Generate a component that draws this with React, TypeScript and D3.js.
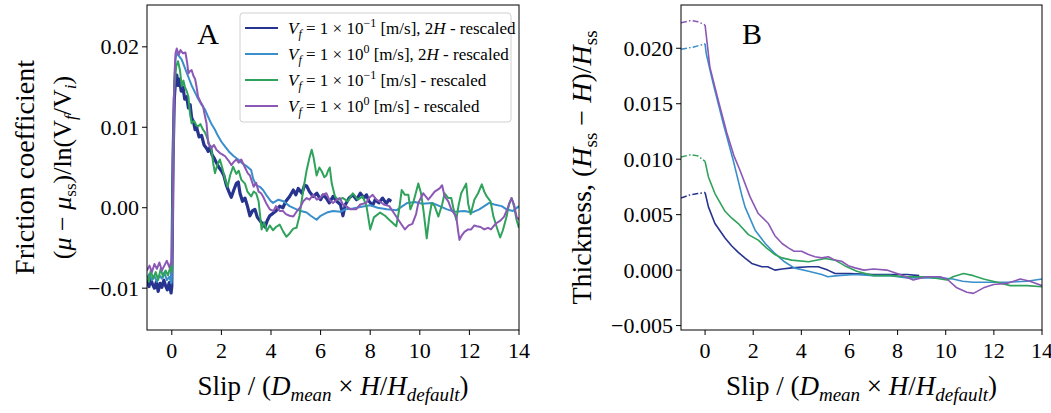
import React from "react";
import * as d3 from "d3";

type P = [number, number];

// ---------- Panel A data (x = slip, y = friction coefficient) ----------
const a_dark2H: P[] = [[-1.0,-0.0090],[-0.92,-0.0098],[-0.85,-0.0088],[-0.78,-0.0095],[-0.7,-0.0100],[-0.62,-0.0092],[-0.55,-0.0104],[-0.47,-0.0094],[-0.4,-0.0099],[-0.32,-0.0090],[-0.25,-0.0097],[-0.18,-0.0102],[-0.1,-0.0093],[-0.03,-0.0106],[0.0,-0.0098],[0.05,0.006],[0.1,0.0135],[0.15,0.0158],[0.2,0.0165],[0.25,0.0152],[0.3,0.0160],[0.38,0.0145],[0.45,0.0150],[0.52,0.0135],[0.6,0.0138],[0.67,0.0124],[0.74,0.0128],[0.8,0.0112],[0.88,0.0106],[0.94,0.0097],[1.0,0.0100],[1.1,0.0088],[1.2,0.0090],[1.3,0.0078],[1.4,0.0074],[1.47,0.0070],[1.55,0.0076],[1.62,0.0066],[1.7,0.0062],[1.8,0.0056],[1.9,0.0050],[2.0,0.0046],[2.1,0.0040],[2.2,0.0028],[2.3,0.0020],[2.4,0.0013],[2.5,0.0022],[2.6,0.0030],[2.68,0.0032],[2.75,0.0018],[2.85,0.0008],[2.95,0.0012],[3.05,0.0002],[3.15,-0.0010],[3.25,-0.0004],[3.35,-0.0002],[3.45,-0.0012],[3.55,-0.0016],[3.65,-0.0020],[3.76,-0.0024],[3.85,-0.0016],[3.95,-0.0010],[4.08,-0.0007],[4.2,-0.0004],[4.35,0.0002],[4.48,0.0000],[4.6,0.0008],[4.75,0.0014],[4.9,0.0022],[5.0,0.0016],[5.1,0.0024],[5.25,0.0018],[5.35,0.0028],[5.44,0.0027],[5.55,0.0020],[5.7,0.0014],[5.85,0.0018],[6.0,0.0010],[6.1,0.0016],[6.23,0.0012],[6.35,0.0006],[6.5,0.0014],[6.65,0.0008],[6.8,0.0004],[6.9,-0.0010],[7.0,0.0004],[7.15,0.0012],[7.3,0.0016],[7.45,0.0010],[7.6,0.0018],[7.75,0.0012],[7.85,0.0016],[7.95,0.0008],[8.1,0.0003],[8.2,0.0010],[8.35,0.0006],[8.5,0.0012],[8.65,0.0005],[8.75,0.0010],[8.85,0.0008]];

const a_light2H: P[] = [[-1,-0.0088],[-0.9,-0.0082],[-0.8,-0.0090],[-0.7,-0.0085],[-0.6,-0.0092],[-0.5,-0.0084],[-0.4,-0.0088],[-0.3,-0.0080],[-0.2,-0.0090],[-0.1,-0.0086],[-0.02,-0.0094],[0.0,-0.0090],[0.05,0.004],[0.1,0.0150],[0.15,0.0185],[0.2,0.0192],[0.3,0.0188],[0.4,0.0184],[0.5,0.0176],[0.6,0.0168],[0.7,0.0160],[0.8,0.0152],[0.94,0.0143],[1.05,0.0136],[1.2,0.0128],[1.34,0.0122],[1.45,0.0114],[1.6,0.0104],[1.74,0.0097],[1.85,0.0090],[2.0,0.0082],[2.15,0.0076],[2.3,0.0070],[2.5,0.0064],[2.68,0.0060],[2.85,0.0055],[3.0,0.0052],[3.2,0.0047],[3.28,0.0036],[3.4,0.0028],[3.55,0.0026],[3.68,0.0022],[3.85,0.0014],[4.0,0.0008],[4.08,0.0006],[4.3,0.0010],[4.5,0.0008],[4.75,0.0002],[5.03,-0.0002],[5.2,-0.0004],[5.44,-0.0006],[5.6,-0.0010],[5.84,-0.0015],[6.0,-0.0010],[6.25,-0.0006],[6.5,-0.0004],[6.8,-0.0005],[7.0,-0.0002],[7.3,-0.0001],[7.6,0.0001],[8.0,0.0003],[8.3,0.0000],[8.67,-0.0002],[9.07,-0.0003],[9.3,0.0002],[9.5,0.0006],[9.8,0.0007],[10.1,0.0005],[10.5,0.0006],[10.8,0.0002],[11.1,-0.0002],[11.4,-0.0005],[11.8,-0.0004],[12.1,-0.0006],[12.4,-0.0002],[12.8,0.0006],[13.0,0.0004],[13.3,0.0002],[13.5,-0.0002],[13.75,-0.0004],[14.0,0.0002]];

const a_green1H: P[] = [[-1,-0.0085],[-0.92,-0.0092],[-0.85,-0.0078],[-0.75,-0.0088],[-0.65,-0.0080],[-0.55,-0.0090],[-0.45,-0.0076],[-0.35,-0.0086],[-0.25,-0.0078],[-0.15,-0.0084],[-0.05,-0.0072],[0.0,-0.0080],[0.05,0.006],[0.1,0.0150],[0.18,0.0176],[0.25,0.0182],[0.33,0.0171],[0.4,0.0151],[0.47,0.0158],[0.53,0.0150],[0.6,0.0145],[0.67,0.0138],[0.73,0.0118],[0.8,0.0105],[0.9,0.0108],[1.0,0.0102],[1.06,0.0101],[1.15,0.0104],[1.26,0.0097],[1.33,0.0094],[1.4,0.0089],[1.5,0.0080],[1.6,0.0072],[1.67,0.0055],[1.74,0.0043],[1.82,0.0052],[1.94,0.0060],[2.05,0.0048],[2.15,0.0035],[2.25,0.0026],[2.35,0.0040],[2.47,0.0051],[2.6,0.0042],[2.7,0.0046],[2.8,0.0035],[2.95,0.0030],[3.05,0.0020],[3.2,0.0014],[3.3,0.0020],[3.4,0.0018],[3.5,0.0008],[3.62,-0.0027],[3.72,-0.0018],[3.83,-0.0029],[3.95,-0.0022],[4.08,-0.0028],[4.2,-0.0024],[4.35,-0.0021],[4.5,-0.0030],[4.62,-0.0036],[4.75,-0.0032],[4.9,-0.0026],[5.03,-0.0025],[5.15,-0.0010],[5.3,0.0022],[5.44,0.0047],[5.55,0.0062],[5.64,0.0072],[5.72,0.0062],[5.84,0.0040],[5.95,0.0050],[6.05,0.0045],[6.15,0.0038],[6.23,0.0040],[6.3,0.0046],[6.37,0.0050],[6.45,0.0030],[6.58,0.0014],[6.7,0.0010],[6.9,0.0012],[7.1,0.0008],[7.3,0.0018],[7.5,0.0010],[7.7,0.0014],[7.85,0.0002],[8.0,-0.0027],[8.15,-0.0012],[8.4,-0.0006],[8.6,-0.0010],[8.8,-0.0016],[9.05,-0.0023],[9.15,-0.0006],[9.27,0.0022],[9.4,0.0016],[9.54,0.0016],[9.62,-0.0002],[9.75,0.0008],[9.94,0.0030],[10.05,0.0018],[10.15,-0.0004],[10.28,-0.0038],[10.38,-0.0012],[10.48,0.0006],[10.6,0.0002],[10.75,-0.0011],[10.9,0.0004],[11.0,0.0018],[11.15,0.0012],[11.27,0.0012],[11.35,0.0],[11.47,-0.0015],[11.57,0.0004],[11.67,0.0018],[11.87,0.0030],[11.95,0.0005],[12.05,-0.0008],[12.2,0.0010],[12.35,0.0018],[12.5,0.0029],[12.6,0.0020],[12.7,0.0014],[12.85,0.0008],[12.97,-0.0011],[13.1,-0.0024],[13.24,-0.0037],[13.35,-0.0028],[13.5,-0.0011],[13.6,0.0005],[13.7,0.0012],[13.8,0.0002],[13.9,-0.0015],[14.0,-0.0025]];

const a_purple1H: P[] = [[-1,-0.0078],[-0.9,-0.0072],[-0.8,-0.0080],[-0.7,-0.0070],[-0.6,-0.0076],[-0.5,-0.0068],[-0.4,-0.0078],[-0.3,-0.0072],[-0.2,-0.0066],[-0.1,-0.0074],[-0.03,-0.0068],[0.0,-0.0070],[0.05,0.002],[0.1,0.0160],[0.15,0.0192],[0.2,0.0198],[0.28,0.0190],[0.35,0.0196],[0.45,0.0192],[0.55,0.0193],[0.62,0.0180],[0.67,0.0167],[0.74,0.0170],[0.8,0.0171],[0.87,0.0164],[0.94,0.0160],[1.0,0.0150],[1.06,0.0138],[1.15,0.0132],[1.26,0.0126],[1.33,0.0115],[1.4,0.0105],[1.47,0.0080],[1.55,0.0076],[1.6,0.0074],[1.7,0.0078],[1.8,0.0072],[1.94,0.0068],[2.05,0.0066],[2.15,0.0064],[2.3,0.0058],[2.4,0.0053],[2.5,0.0057],[2.6,0.0060],[2.7,0.0056],[2.8,0.0060],[2.95,0.0050],[3.06,0.0043],[3.15,0.0040],[3.3,0.0026],[3.4,0.0031],[3.5,0.0020],[3.6,0.0018],[3.68,0.0014],[3.8,0.0006],[3.95,-0.0002],[4.1,-0.0004],[4.2,0.0002],[4.35,-0.0004],[4.48,-0.0004],[4.6,-0.0008],[4.75,-0.0010],[4.9,-0.0011],[5.05,-0.0004],[5.17,0.0000],[5.3,0.0008],[5.44,0.0012],[5.55,0.0010],[5.7,0.0016],[5.85,0.0010],[5.97,0.0012],[6.1,0.0016],[6.23,0.0018],[6.35,0.0010],[6.5,0.0006],[6.65,0.0010],[6.77,0.0012],[6.9,0.0004],[7.03,0.0002],[7.2,-0.0002],[7.43,-0.0002],[7.6,0.0004],[7.84,0.0006],[7.95,0.0012],[8.1,0.0016],[8.25,0.0010],[8.37,0.0008],[8.55,0.0004],[8.77,0.0002],[8.9,-0.0004],[9.05,-0.0011],[9.2,-0.0018],[9.4,-0.0027],[9.55,-0.0022],[9.7,-0.0020],[9.85,-0.0008],[9.94,0.0006],[10.14,0.0018],[10.34,0.0010],[10.45,0.0014],[10.6,0.0020],[10.8,0.0024],[10.9,0.0028],[11.0,0.0014],[11.15,0.0008],[11.27,-0.0002],[11.47,-0.0011],[11.55,-0.0030],[11.6,-0.0040],[11.7,-0.0034],[11.8,-0.0030],[11.95,-0.0027],[12.07,-0.0027],[12.2,-0.0022],[12.3,-0.0023],[12.45,-0.0024],[12.6,-0.0027],[12.75,-0.0025],[12.87,-0.0027],[13.0,-0.0022],[13.1,-0.0019],[13.25,-0.0016],[13.4,-0.0011],[13.55,0.0000],[13.7,0.0012],[13.8,0.0004],[13.9,-0.0011],[14.0,-0.0015]];

// ---------- Panel B data (thickness) : dash-dot part before 0, solid after ----------
const b_dark2H_pre: P[] = [[-1,0.0065],[-0.6,0.0068],[-0.3,0.0069],[0,0.0070]];
const b_light2H_pre: P[] = [[-1,0.0199],[-0.5,0.0201],[0,0.0204]];
const b_green1H_pre: P[] = [[-1,0.0102],[-0.6,0.0104],[-0.3,0.0103],[0,0.0098]];
const b_purple1H_pre: P[] = [[-1,0.0223],[-0.6,0.0225],[-0.3,0.0224],[0,0.0221]];

const b_dark2H: P[] = [[0,0.0070],[0.14,0.0057],[0.41,0.0042],[0.83,0.0029],[1.1,0.0022],[1.38,0.0016],[1.65,0.0011],[1.94,0.0006],[2.36,0.0003],[2.6,0.0003],[2.9,0.0000],[3.2,0.0001],[3.6,0.0002],[4.3,0.0003],[4.7,0.0003],[5.1,0.0000],[5.4,-0.0003],[6.0,-0.0003],[7.0,-0.0004],[8.0,-0.0004],[8.4,-0.0004],[8.9,-0.0005]];
const b_light2H: P[] = [[0,0.0204],[0.05,0.0195],[0.34,0.0168],[0.76,0.0132],[1.17,0.0099],[1.52,0.0068],[1.66,0.0057],[2.08,0.0036],[2.5,0.0024],[2.9,0.0015],[3.3,0.00075],[3.7,0.0002],[4.3,-0.0001],[4.85,-0.0004],[5.1,-0.0006],[5.5,-0.0005],[6.23,-0.0004],[7.0,-0.0005],[7.7,-0.0005],[8.4,-0.0007],[9.1,-0.0007],[9.77,-0.0007],[10.3,-0.0008],[10.7,-0.0010],[11.15,-0.0011],[11.8,-0.0011],[12.54,-0.0011],[13.38,-0.0010],[14.0,-0.0008]];
const b_green1H: P[] = [[0,0.0098],[0.14,0.0084],[0.41,0.0069],[0.83,0.0053],[1.1,0.0047],[1.38,0.0042],[1.8,0.0032],[2.21,0.0027],[2.55,0.0020],[2.9,0.0014],[3.2,0.0011],[3.6,0.0009],[4.3,0.00075],[4.99,0.00105],[5.4,0.0009],[5.8,0.0004],[6.3,-0.0001],[7.0,-0.0005],[7.7,-0.0005],[8.4,-0.0006],[9.2,-0.0006],[10.05,-0.0009],[10.3,-0.0006],[10.74,-0.0003],[11.15,-0.0005],[11.57,-0.0008],[12.13,-0.0011],[12.68,-0.0014],[13.38,-0.0014],[14.0,-0.0015]];
const b_purple1H: P[] = [[0,0.0221],[0.2,0.0183],[0.55,0.0153],[0.9,0.0124],[1.2,0.0103],[1.45,0.0090],[1.87,0.0066],[2.21,0.0051],[2.63,0.0042],[2.9,0.0031],[3.2,0.0024],[3.46,0.0020],[3.7,0.0017],[4.01,0.0017],[4.3,0.0014],[4.57,0.0012],[4.85,0.0011],[5.12,0.0012],[5.4,0.0009],[5.67,0.0008],[5.95,0.0004],[6.23,0.0002],[6.6,0.0000],[7.0,0.0001],[7.55,0.0000],[8.1,-0.0004],[8.65,-0.0009],[9.2,-0.0006],[9.77,-0.0006],[10.05,-0.0008],[10.46,-0.0016],[10.88,-0.0020],[11.15,-0.0021],[11.57,-0.0016],[11.99,-0.0013],[12.54,-0.0012],[13.1,-0.0008],[13.5,-0.0010],[14.0,-0.0014]];

// ---------- ticks / labels ----------
const xTicks = [0, 2, 4, 6, 8, 10, 12, 14];
const aYTicks = [-0.01, 0.0, 0.01, 0.02];
const bYTicks = [-0.005, 0.0, 0.005, 0.01, 0.015, 0.02];
const legendExps = ["\u22121", "0", "\u22121", "0"];
const legendSuffix = [", 2", ", 2", "", ""];

const COLORS = ["#27348f", "#3a8fcb", "#2fa25b", "#8b58b5"];
const FONT = "'Liberation Serif', 'DejaVu Serif', serif";
const TICK_FS = 22;

const fmtA = (v: number) => (v < 0 ? "\u2212" : "") + Math.abs(v).toFixed(2);
const fmtB = (v: number) => (v < 0 ? "\u2212" : "") + Math.abs(v).toFixed(3);

function Axes({ left, right, top, bottom, xDomain, yDomain, yTicks, fmt }: any) {
  const x = d3.scaleLinear().domain(xDomain).range([left, right]);
  const y = d3.scaleLinear().domain(yDomain).range([bottom, top]);
  return (
    <g>
      <rect x={left} y={top} width={right - left} height={bottom - top} fill="none" stroke="#000" strokeWidth={1} />
      {xTicks.map((t) => (
        <g key={"x" + t}>
          <line x1={x(t)} x2={x(t)} y1={bottom} y2={bottom + 5} stroke="#000" />
          <text x={x(t)} y={bottom + 28} textAnchor="middle" fontSize={TICK_FS} fontFamily={FONT}>{t}</text>
        </g>
      ))}
      {yTicks.map((t: number) => (
        <g key={"y" + t}>
          <line x1={left - 5} x2={left} y1={y(t)} y2={y(t)} stroke="#000" />
          <text x={left - 8} y={y(t) + 7.5} textAnchor="end" fontSize={TICK_FS} fontFamily={FONT}>{fmt(t)}</text>
        </g>
      ))}
    </g>
  );
}

function XLabel({ cx, y }: { cx: number; y: number }) {
  return (
    <text x={cx} y={y} textAnchor="middle" fontSize={27} fontFamily={FONT}>
      Slip / (<tspan fontStyle="italic">D</tspan>
      <tspan fontStyle="italic" fontSize={19} dy={6}>mean</tspan>
      <tspan dy={-6}> × </tspan>
      <tspan fontStyle="italic">H</tspan>/<tspan fontStyle="italic">H</tspan>
      <tspan fontStyle="italic" fontSize={19} dy={6}>default</tspan>
      <tspan dy={-6}>)</tspan>
    </text>
  );
}

export default function App() {
  const W = 1051, H = 413;
  const A = { left: 147, right: 519, top: 5, bottom: 330 };
  const B = { left: 681, right: 1042, top: 5, bottom: 330 };
  const xA = d3.scaleLinear().domain([-1, 14]).range([A.left, A.right]);
  const yA = d3.scaleLinear().domain([-0.0152, 0.0252]).range([A.bottom, A.top]);
  const xB = d3.scaleLinear().domain([-1, 14]).range([B.left, B.right]);
  const yB = d3.scaleLinear().domain([-0.0054, 0.0239]).range([B.bottom, B.top]);
  const lineA = d3.line<P>().x((d) => xA(d[0])).y((d) => yA(d[1]));
  const lineB = d3.line<P>().x((d) => xB(d[0])).y((d) => yB(d[1]));

  const seriesA = [a_dark2H, a_light2H, a_green1H, a_purple1H];
  const seriesBpre = [b_dark2H_pre, b_light2H_pre, b_green1H_pre, b_purple1H_pre];
  const seriesB = [b_dark2H, b_light2H, b_green1H, b_purple1H];

  const leg = { x: 240, y: 13, w: 271, h: 109 };

  return (
    <svg width={W} height={H} style={{ position: "absolute", left: 0, top: 0, background: "#fff" }}>
      <rect width={W} height={H} fill="#fff" />
      <defs>
        <clipPath id="clipA"><rect x={A.left} y={A.top} width={A.right - A.left} height={A.bottom - A.top} /></clipPath>
        <clipPath id="clipB"><rect x={B.left} y={B.top} width={B.right - B.left} height={B.bottom - B.top} /></clipPath>
      </defs>
      {/* Panel A */}
      <g clipPath="url(#clipA)">
        {seriesA.map((s, i) => (
          <path key={i} d={lineA(s) || ""} fill="none" stroke={COLORS[i]} strokeWidth={i === 0 ? 3.2 : 2} strokeLinejoin="round" />
        ))}
      </g>
      <Axes left={A.left} right={A.right} top={A.top} bottom={A.bottom} xDomain={[-1, 14]} yDomain={[-0.0152, 0.0252]} yTicks={aYTicks} fmt={fmtA} />
      <text x={208} y={44} textAnchor="middle" fontSize={30} fontFamily={FONT}>A</text>

      {/* Legend */}
      <rect x={leg.x} y={leg.y} width={leg.w} height={leg.h} rx={3} fill="#fff" fillOpacity={0.85} stroke="#d0d0d0" />
      {COLORS.map((c, i) => {
        const ly = 28 + i * 26;
        return (
          <g key={"leg" + i}>
            <line x1={245} x2={278} y1={ly} y2={ly} stroke={c} strokeWidth={2} />
            <text x={288} y={ly + 6} fontSize={17} fontFamily={FONT}>
              <tspan fontStyle="italic">V</tspan>
              <tspan fontStyle="italic" fontSize={12} dy={4}>f</tspan>
              <tspan dy={-4}> = 1 × 10</tspan>
              <tspan fontSize={12} dy={-7}>{legendExps[i]}</tspan>
              <tspan dy={7}> [m/s]{legendSuffix[i]}</tspan>
              {legendSuffix[i] ? <tspan fontStyle="italic">H</tspan> : null}
              <tspan> - rescaled</tspan>
            </text>
          </g>
        );
      })}

      {/* Y label A */}
      <text transform={`translate(25,${(A.top + A.bottom) / 2}) rotate(-90)`} textAnchor="middle" dy={9} fontSize={28} fontFamily={FONT}>Friction coefficient</text>
      <text transform={`translate(62,${(A.top + A.bottom) / 2}) rotate(-90)`} textAnchor="middle" dy={9} fontSize={26} fontFamily={FONT}>
        (<tspan fontStyle="italic">μ</tspan> − <tspan fontStyle="italic">μ</tspan>
        <tspan fontSize={17} dy={5}>ss</tspan>
        <tspan dy={-5}>)/ln(V</tspan>
        <tspan fontStyle="italic" fontSize={17} dy={5}>f</tspan>
        <tspan dy={-5}>/V</tspan>
        <tspan fontStyle="italic" fontSize={17} dy={5}>i</tspan>
        <tspan dy={-5}>)</tspan>
      </text>
      <XLabel cx={(A.left + A.right) / 2} y={395} />

      {/* Panel B */}
      <g clipPath="url(#clipB)">
        {seriesBpre.map((s, i) => (
          <path key={"p" + i} d={lineB(s) || ""} fill="none" stroke={COLORS[i]} strokeWidth={1.5} strokeDasharray="6,2.2,1.5,2.2" />
        ))}
        {seriesB.map((s, i) => (
          <path key={"s" + i} d={lineB(s) || ""} fill="none" stroke={COLORS[i]} strokeWidth={1.6} strokeLinejoin="round" />
        ))}
      </g>
      <Axes left={B.left} right={B.right} top={B.top} bottom={B.bottom} xDomain={[-1, 14]} yDomain={[-0.0054, 0.0239]} yTicks={bYTicks} fmt={fmtB} />
      <text x={752} y={44} textAnchor="middle" fontSize={30} fontFamily={FONT}>B</text>
      <text transform={`translate(582,${(B.top + B.bottom) / 2}) rotate(-90)`} textAnchor="middle" dy={9} fontSize={28} fontFamily={FONT}>
        Thickness, (<tspan fontStyle="italic">H</tspan>
        <tspan fontSize={19} dy={6}>ss</tspan>
        <tspan dy={-6}> − </tspan>
        <tspan fontStyle="italic">H</tspan>)/<tspan fontStyle="italic">H</tspan>
        <tspan fontSize={19} dy={6}>ss</tspan>
      </text>
      <XLabel cx={(B.left + B.right) / 2} y={395} />
    </svg>
  );
}
